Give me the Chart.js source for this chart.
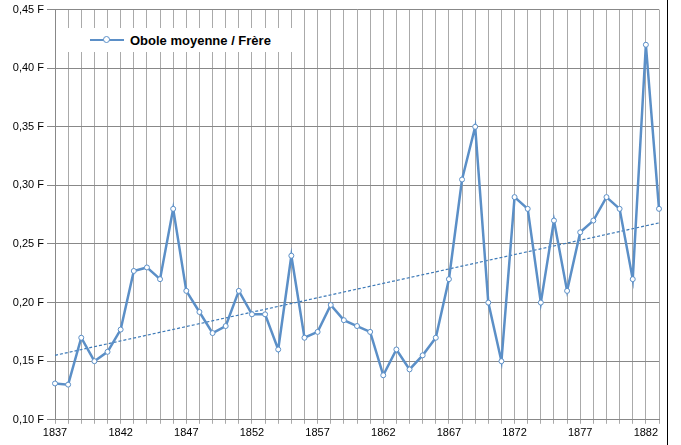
<!DOCTYPE html>
<html>
<head>
<meta charset="utf-8">
<script src="https://cdn.jsdelivr.net/npm/chart.js@4"></script>
<style>
  body { margin: 0; background: #fff; }
  #wrap { position: relative; width: 681px; height: 445px; }
  #legend { position: absolute; left: 62px; top: 28px; width: 240px; height: 24px; background: #fff;
    font: bold 13px "Liberation Sans", Arial, sans-serif; display: flex; align-items: center; }
  #legend .sw { position: relative; width: 34px; height: 2px; background: #5b8fc7; margin: 0 6px 0 28px; }
  #legend .sw i { position: absolute; left: 13px; top: -3px; width: 5px; height: 5px; border: 1px solid #5b8fc7; border-radius: 50%; background: #fff; }
  #edge { position: absolute; left: 667px; top: 0; width: 1px; height: 445px; background: #000; }
</style>
</head>
<body>
<div id="wrap">
  <canvas id="c" width="681" height="445"></canvas>
  <div id="legend"><span class="sw"><i></i></span>Obole moyenne / Frère</div>
  <div id="edge"></div>
</div>
<script>
// années et valeurs
const years = [];
for (let y = 1837; y <= 1883; y++) years.push(String(y));

const obole = [0.131, 0.130, 0.170, 0.150, 0.158, 0.177, 0.227, 0.230, 0.220, 0.280,
  0.210, 0.192, 0.174, 0.180, 0.210, 0.190, 0.190, 0.160, 0.240, 0.170,
  0.175, 0.198, 0.185, 0.180, 0.175, 0.138, 0.160, 0.143, 0.155, 0.170,
  0.220, 0.305, 0.350, 0.200, 0.150, 0.290, 0.280, 0.200, 0.270, 0.210,
  0.260, 0.270, 0.290, 0.280, 0.220, 0.420, 0.280];

// tendance linéaire : extrémités
const trendStart = 0.155;
const trendEnd = 0.268;
const trend = years.map((_, i) => (i === 0 ? trendStart : i === years.length - 1 ? trendEnd : null));

const ctx = document.getElementById('c').getContext('2d');
new Chart(ctx, {
  type: 'line',
  data: {
    labels: years,
    datasets: [{
      data: obole,
      borderColor: '#5b8fc7',
      borderWidth: 2.5,
      pointRadius: 2.5,
      pointBackgroundColor: '#fff',
      pointBorderColor: '#5b8fc7',
      pointBorderWidth: 1,
      tension: 0
    }, {
      data: trend,
      spanGaps: true,
      borderColor: '#3d7ab8',
      borderWidth: 1.2,
      borderDash: [3, 2],
      pointRadius: 0
    }]
  },
  options: {
    responsive: false,
    animation: false,
    layout: { padding: { left: 2, right: 22, top: 7, bottom: 2 } },
    plugins: { legend: { display: false }, tooltip: { enabled: false } },
    scales: {
      x: {
        offset: false,
        grid: { color: '#aaa', lineWidth: 1, drawTicks: true, tickLength: 4 },
        border: { color: '#888' },
        ticks: {
          autoSkip: false, maxRotation: 0, color: '#000',
          font: { family: 'Liberation Sans', size: 11 },
          callback: (v, i) => (i % 5 === 0 ? years[i] : '')
        }
      },
      y: {
        min: 0.10, max: 0.45,
        afterFit: s => { s.width = 53; },
        grid: { color: '#888', lineWidth: 1 },
        border: { color: '#888' },
        ticks: {
          stepSize: 0.05, color: '#000',
          font: { family: 'Liberation Sans', size: 11 },
          callback: v => v.toFixed(2).replace('.', ',') + ' F'
        }
      }
    }
  }
});
</script>
</body>
</html>
